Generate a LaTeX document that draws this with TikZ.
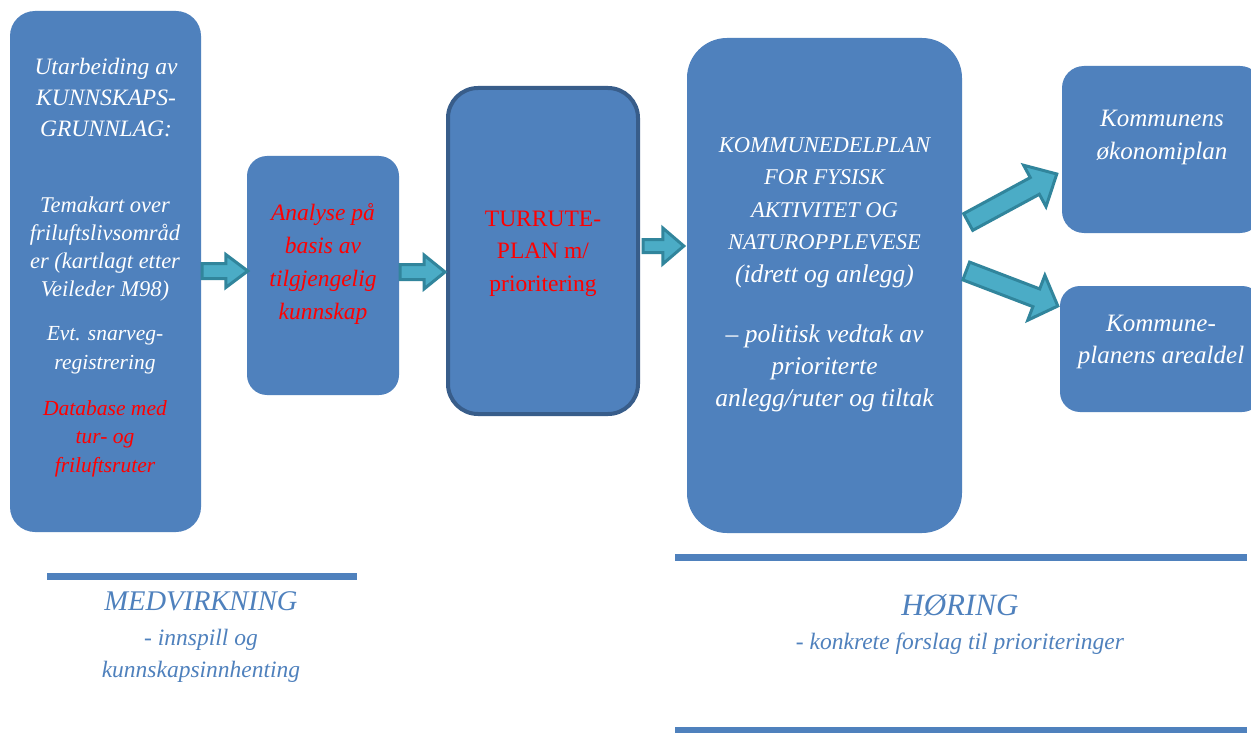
\documentclass[tikz,border=0pt]{standalone}
\usepackage{fontspec}
\setmainfont{Liberation Serif}
\usetikzlibrary{calc}
\definecolor{boxblue}{HTML}{4F81BD}
\definecolor{boxedge}{HTML}{385D8A}
\definecolor{arrfill}{HTML}{4BACC6}
\definecolor{arrdraw}{HTML}{31859C}
\definecolor{redtxt}{HTML}{FF0000}
\tikzset{
  box/.style={fill=boxblue, draw=none, rounded corners=#1, inner sep=0pt},
  box/.default=20pt,
  txt/.style={align=center, inner sep=0pt, text=white},
  arrowbody/.style={fill=arrfill, draw=arrdraw, line width=3pt, line join=miter},
  band/.style={fill=boxblue, draw=none},
}
% #1 tail, #2 tip, #3 half shaft width, #4 half head width, #5 head length
\newcommand\blockarr[5]{%
  \coordinate (tmpH) at ($(#2)!#5!(#1)$);
  \draw[arrowbody] ($(#1)!#3!90:(#2)$) -- ($(tmpH)!#3!-90:(#1)$) -- ($(tmpH)!#4!-90:(#1)$)
    -- (#2) -- ($(tmpH)!#4!90:(#1)$) -- ($(tmpH)!#3!90:(#1)$) -- ($(#1)!#3!-90:(#2)$) -- cycle;
}
\newcommand\lcline[1]{{\fontsize{25.5}{32.5}\selectfont #1}}
\begin{document}
\begin{tikzpicture}[x=1pt,y=-1pt]
\useasboundingbox (0,0) rectangle (1251,733);
\clip (0,0) rectangle (1251,733);
\fill[white] (0,0) rectangle (1251,733);

% boxes
\node[box=25pt, minimum width=191pt, minimum height=521pt] (b1) at (105.5,271.5) {};
\node[box=20pt, minimum width=152pt, minimum height=239pt] (b2) at (323,275.5) {};
\node[box=30pt, draw=boxedge, line width=4pt, minimum width=190pt, minimum height=326pt] (b3) at (543,251) {};
\node[box=40pt, minimum width=275pt, minimum height=495pt] (b4) at (824.5,285.5) {};
\node[box=22pt, minimum width=200pt, minimum height=167pt] (b5) at (1162,149.5) {};
\node[box=20pt, minimum width=202pt, minimum height=126pt] (b6) at (1161,349) {};

% box 1 text
\node[txt, font=\fontsize{23.5}{31}\selectfont\itshape] (t1a) at (106,97.5) {Utarbeiding av\\KUNNSKAPS-\\GRUNNLAG:};
\node[txt, font=\fontsize{22.5}{28}\selectfont\itshape] (t1b) at (105,249) {Temakart over\\friluftslivsområd\\er (kartlagt etter\\Veileder M98)};
\node[txt, font=\fontsize{21.5}{29}\selectfont\itshape] (t1c) at (105,350) {Evt. snarveg-\\registrering};
\node[txt, text=redtxt, font=\fontsize{21.5}{28.5}\selectfont\itshape] (t1d) at (105,438.5) {Database med\\tur- og\\friluftsruter};

% box 2 text
\node[txt, text=redtxt, font=\fontsize{23.5}{33}\selectfont\itshape] (t2) at (323,264.5) {Analyse på\\basis av\\tilgjengelig\\kunnskap};

% box 3 text
\node[txt, text=redtxt, font=\fontsize{23.5}{32.5}\selectfont] (t3) at (543,253.5) {TURRUTE-\\PLAN m/\\prioritering};

% box 4 text
\node[txt, font=\fontsize{22.5}{32.5}\selectfont\itshape] (t4a) at (824.5,212.5) {KOMMUNEDELPLAN\\FOR FYSISK\\AKTIVITET OG\\NATUROPPLEVESE\\\lcline{(idrett og anlegg)}};
\node[txt, font=\fontsize{25.5}{32}\selectfont\itshape] (t4b) at (824.5,368.5) {– politisk vedtak av\\prioriterte\\anlegg/ruter og tiltak};

% box 5/6 text
\node[txt, font=\fontsize{25}{33}\selectfont\itshape] (t5) at (1162,137) {Kommunens\\økonomiplan};
\node[txt, font=\fontsize{25}{32}\selectfont\itshape] (t6) at (1161,342) {Kommune-\\planens arealdel};

% arrows
\coordinate (a1s) at ([xshift=1pt]b1.east |- 0,271);
\coordinate (a1e) at ([xshift=1pt]b2.west |- 0,271);
\blockarr{a1s}{a1e}{7.5pt}{16.5pt}{22pt}
\coordinate (a2s) at ([xshift=1pt]b2.east |- 0,272);
\coordinate (a2e) at ([xshift=-1pt]b3.west |- 0,272);
\blockarr{a2s}{a2e}{7.5pt}{17pt}{21pt}
\coordinate (a3s) at ([xshift=3pt]b3.east |- 0,246);
\coordinate (a3e) at ([xshift=-3pt]b4.west |- 0,246);
\blockarr{a3s}{a3e}{6.5pt}{18pt}{21pt}
\coordinate (a4s) at ([xshift=6pt]b4.east |- 0,222);
\coordinate (a4e) at ([xshift=-5pt]b5.west |- 0,174);
\blockarr{a4s}{a4e}{9.5pt}{23.5pt}{25pt}
\coordinate (a5s) at ([xshift=4pt]b4.east |- 0,271);
\coordinate (a5e) at ([xshift=-2pt]b6.west |- 0,306);
\blockarr{a5s}{a5e}{9.5pt}{24pt}{23pt}

% bands
\path[band] (47,573) rectangle (357,580);
\path[band] (675,554) rectangle (1247,561);
\path[band] (675,727) rectangle (1247,734);

% bottom texts
\node[txt, text=boxblue, font=\fontsize{28.5}{34}\selectfont\itshape] (med) at (201,601) {MEDVIRKNING};
\node[txt, text=boxblue, font=\fontsize{23.5}{32}\selectfont\itshape] (medsub) at (201,655.5) {- innspill og\\kunnskapsinnhenting};
\node[txt, text=boxblue, font=\fontsize{31}{36}\selectfont\itshape] (hor) at (960,605) {HØRING};
\node[txt, text=boxblue, font=\fontsize{23.5}{30}\selectfont\itshape] (horsub) at (960,644) {- konkrete forslag til prioriteringer};
\end{tikzpicture}
\end{document}
